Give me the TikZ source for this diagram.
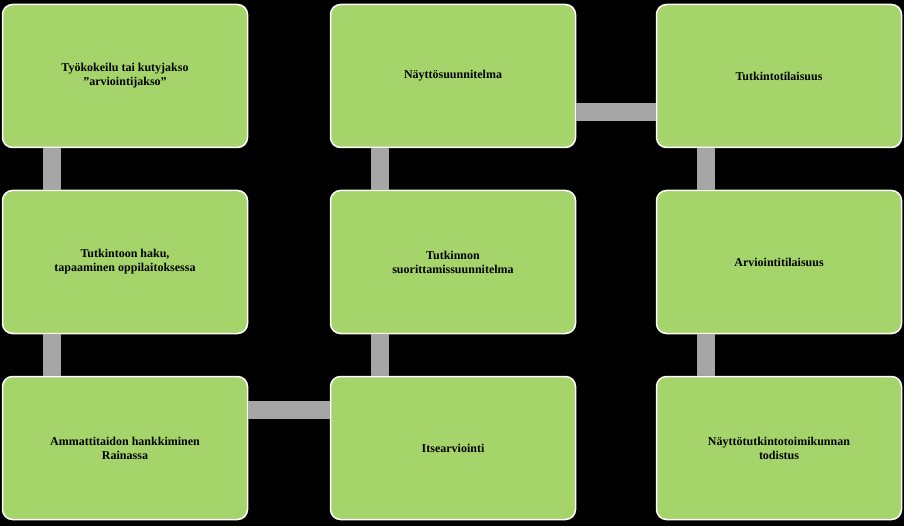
\documentclass[tikz,border=0pt]{standalone}
\usepackage{fontspec}
\setmainfont{Liberation Serif}
\begin{document}
\begin{tikzpicture}[x=1pt,y=-1pt,
  box/.style={draw=white,line width=1.5pt,fill={rgb,255:red,165;green,212;blue,106},rounded corners=10pt,minimum width=245pt,minimum height=143pt,align=center,font=\bfseries\fontsize{12}{14}\selectfont,inner sep=4pt},
  bar/.style={draw={rgb,255:red,166;green,166;blue,166},line width=18pt}]
\fill[black] (0,0) rectangle (904,526);
\useasboundingbox (0,0) rectangle (904,526);
\node[box] (a) at (125,76) {Työkokeilu tai kutyjakso\\"arviointijakso"};
\node[box] (b) at (125,262) {Tutkintoon haku,\\tapaaminen oppilaitoksessa};
\node[box] (c) at (125,448) {Ammattitaidon hankkiminen\\Rainassa};
\node[box] (d) at (453,448) {Itsearviointi};
\node[box] (e) at (453,262) {Tutkinnon\\suorittamissuunnitelma};
\node[box] (f) at (453,76) {Näyttösuunnitelma};
\node[box] (g) at (779,76) {Tutkintotilaisuus};
\node[box] (h) at (779,262) {Arviointitilaisuus};
\node[box] (i) at (779,448) {Näyttötutkintotoimikunnan\\todistus};
\begin{scope}[on background layer/.try]
\end{scope}
\draw[bar] ([xshift=-73pt]a.south) -- ([xshift=-73pt]b.north);
\draw[bar] ([xshift=-73pt]b.south) -- ([xshift=-73pt]c.north);
\draw[bar] ([yshift=38pt]c.east) -- ([yshift=38pt]d.west);
\draw[bar] ([xshift=-73pt]d.north) -- ([xshift=-73pt]e.south);
\draw[bar] ([xshift=-73pt]e.north) -- ([xshift=-73pt]f.south);
\draw[bar] ([yshift=-36pt]f.east) -- ([yshift=-36pt]g.west);
\draw[bar] ([xshift=-73pt]g.south) -- ([xshift=-73pt]h.north);
\draw[bar] ([xshift=-73pt]h.south) -- ([xshift=-73pt]i.north);
\end{tikzpicture}
\end{document}
